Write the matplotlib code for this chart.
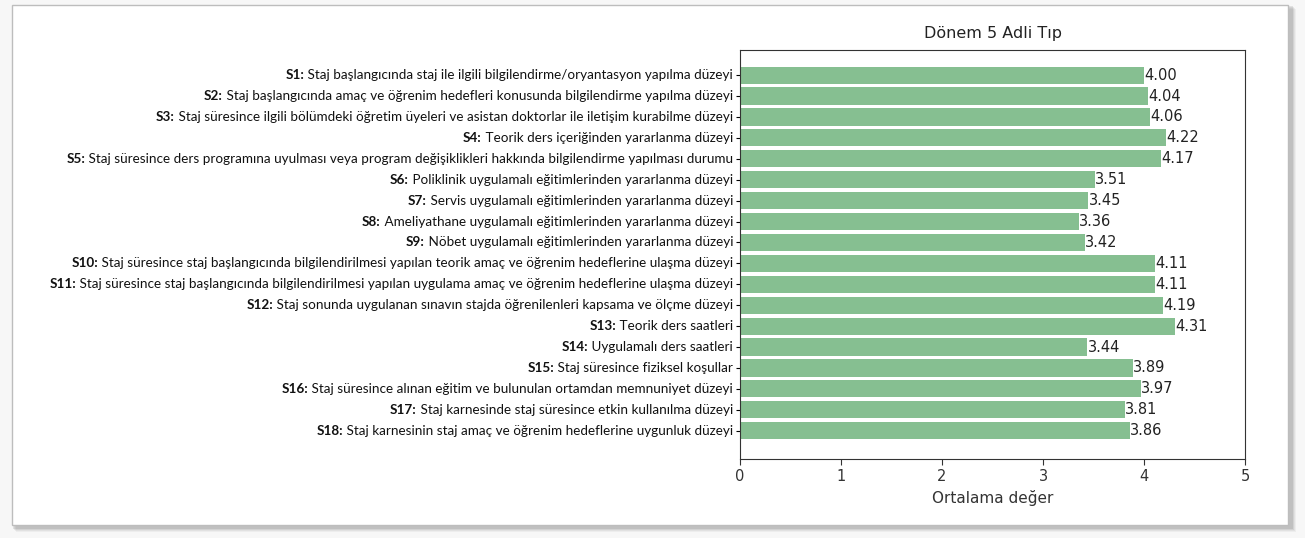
import matplotlib
matplotlib.use("Agg")
import matplotlib.pyplot as plt
from matplotlib.patches import Rectangle
import numpy as np

codes = ["S1", "S2", "S3", "S4", "S5", "S6", "S7", "S8", "S9",
         "S10", "S11", "S12", "S13", "S14", "S15", "S16", "S17", "S18"]
questions = [
    "Staj başlangıcında staj ile ilgili bilgilendirme/oryantasyon yapılma düzeyi",
    "Staj başlangıcında amaç ve öğrenim hedefleri konusunda bilgilendirme yapılma düzeyi",
    "Staj süresince ilgili bölümdeki öğretim üyeleri ve asistan doktorlar ile iletişim kurabilme düzeyi",
    "Teorik ders içeriğinden yararlanma düzeyi",
    "Staj süresince ders programına uyulması veya program değişiklikleri hakkında bilgilendirme yapılması durumu",
    "Poliklinik uygulamalı eğitimlerinden yararlanma düzeyi",
    "Servis uygulamalı eğitimlerinden yararlanma düzeyi",
    "Ameliyathane uygulamalı eğitimlerinden yararlanma düzeyi",
    "Nöbet uygulamalı eğitimlerinden yararlanma düzeyi",
    "Staj süresince staj başlangıcında bilgilendirilmesi yapılan teorik amaç ve öğrenim hedeflerine ulaşma düzeyi",
    "Staj süresince staj başlangıcında bilgilendirilmesi yapılan uygulama amaç ve öğrenim hedeflerine ulaşma düzeyi",
    "Staj sonunda uygulanan sınavın stajda öğrenilenleri kapsama ve ölçme düzeyi",
    "Teorik ders saatleri",
    "Uygulamalı ders saatleri",
    "Staj süresince fiziksel koşullar",
    "Staj süresince alınan eğitim ve bulunulan ortamdan memnuniyet düzeyi",
    "Staj karnesinde staj süresince etkin kullanılma düzeyi",
    "Staj karnesinin staj amaç ve öğrenim hedeflerine uygunluk düzeyi",
]
scores = [4.00, 4.04, 4.06, 4.22, 4.17, 3.51, 3.45, 3.36, 3.42,
          4.11, 4.11, 4.19, 4.31, 3.44, 3.89, 3.97, 3.81, 3.86]

label_font = ["Lato", "DejaVu Sans"]

fig = plt.figure(figsize=(13.05, 5.38), dpi=100)
fig.patch.set_facecolor("#f7f7f7")

# screenshot frame with a soft shadow
W, H = 1305, 538
for k, a in enumerate([0.06, 0.08, 0.10, 0.14]):
    off = 4 - k
    fig.patches.append(Rectangle(((12 + off) / W, 1 - (528 + off) / H),
                                 1280 / W, 523 / H,
                                 transform=fig.transFigure, facecolor="#555555",
                                 edgecolor="none", alpha=a, zorder=0))
fig.patches.append(Rectangle((12 / W, 1 - 525 / H), 1276 / W, 520 / H,
                             transform=fig.transFigure, facecolor="white",
                             edgecolor="#bdbdbd", lw=1.0, zorder=1))

ax = fig.add_axes([740 / W, 1 - 459 / H, 505 / W, 409 / H])
ax.set_zorder(2)
y = np.arange(len(scores))
ax.barh(y, scores, height=0.82, color="#86bf91")
ax.set_xlim(0, 5)
ax.set_ylim(len(scores) + 0.35, -1.2)
ax.set_yticks(y)
ax.set_yticklabels([""] * len(y))
ax.tick_params(axis="y", length=3, width=0.8)
ax.tick_params(axis="x", labelsize=10.5, colors="#333333", length=4)
for sp in ax.spines.values():
    sp.set_color("#333333")

for yi, v in zip(y, scores):
    ax.text(v, yi, f"{v:.2f}", va="center", ha="left", fontsize=10.5, color="#222222")

ax.set_title("Dönem 5 Adli Tıp", fontsize=11.5, color="#222222", pad=9)
ax.set_xlabel("Ortalama değer", fontsize=11, color="#333333", labelpad=4)

# two-part labels: bold code + regular question text
for yi, c, q in zip(y, codes, questions):
    t = ax.annotate(" " + q, xy=(0, yi), xycoords=("axes fraction", "data"),
                    xytext=(-5, 0), textcoords="offset points",
                    ha="right", va="center", fontsize=9.75, family=label_font,
                    color="#111111")
    ax.annotate(c + ":", xy=(0, 0.5), xycoords=t, ha="right", va="center",
                fontsize=9.75, family=label_font, weight="bold", color="#111111")

fig.savefig("out.png", dpi=100, facecolor=fig.get_facecolor())
